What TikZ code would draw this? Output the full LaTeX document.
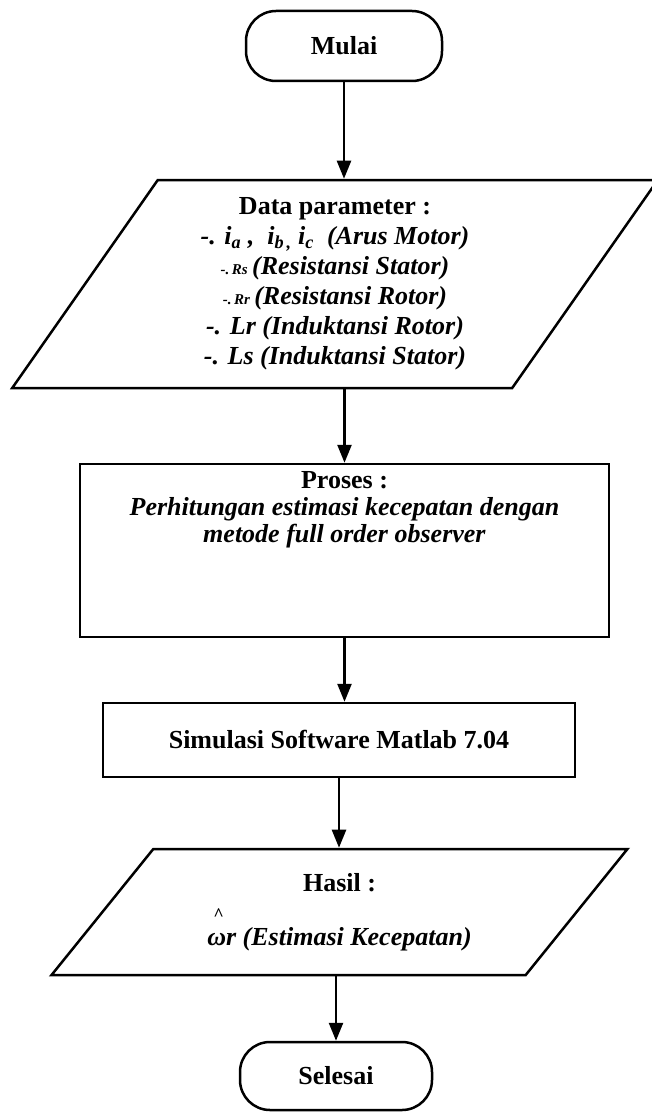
\documentclass[tikz,border=0pt]{standalone}
\usepackage{fontspec}
\setmainfont{Liberation Serif}
\usetikzlibrary{shapes.geometric, arrows.meta, positioning}

\begin{document}
\begin{tikzpicture}[
    x=1pt, y=-1pt,
    font=\fontsize{26}{30}\selectfont,
    terminal/.style={rectangle, draw, rounded corners=30pt, line width=2.5pt, minimum width=196pt, minimum height=70pt, font=\fontsize{26}{30}\selectfont\bfseries},
    io/.style={trapezium, trapezium stretches=true, draw, line width=2.5pt, align=center, inner sep=0pt},
    process/.style={rectangle, draw, line width=2.5pt, align=center, inner sep=0pt},
    arrow/.style={line width=2.5pt, -{Triangle[width=14pt,length=18pt]}}
]
\useasboundingbox (0,0) rectangle (651,1113);

\node (mulai) [terminal] at (344,46) {Mulai};

\node (data) [io, trapezium left angle=57.4, trapezium right angle=122.6, minimum width=650pt, minimum height=208pt] at (335,284)
  {\textbf{Data parameter :}\\
   \textbf{\textit{-. i\textsubscript{a} ,\ \ i\textsubscript{b\,,}\ i\textsubscript{c}\ \ (Arus Motor)}}\\
   \textbf{\textit{{\fontsize{15}{15}\selectfont -.\,Rs}\,(Resistansi Stator)}}\\
   \textbf{\textit{{\fontsize{15}{15}\selectfont -.\,Rr}\,(Resistansi Rotor)}}\\
   \textbf{\textit{-. Lr (Induktansi Rotor)}}\\
   \textbf{\textit{-. Ls (Induktansi Stator)}}};

\node (proses) [process, minimum width=529pt, minimum height=173pt] at (344.5,550.5)
  {\textbf{Proses :}\\[-3pt]
   \textbf{\textit{Perhitungan estimasi kecepatan dengan}}\\[-3pt]
   \textbf{\textit{metode full order observer}}\\[58pt]\mbox{}};

\node (simulasi) [process, minimum width=472pt, minimum height=74pt] at (339,740)
  {\textbf{Simulasi Software Matlab 7.04}};

\node (hasil) [io, trapezium left angle=47.1, trapezium right angle=132.9, minimum width=577pt, minimum height=126pt] at (339.5,912)
  {\textbf{Hasil :}\\[16pt]
   \textbf{\textit{\rlap{\raisebox{25pt}{\hspace{6pt}\fontsize{18}{18}\selectfont\textasciicircum}}ωr (Estimasi Kecepatan)}}};

\node (selesai) [terminal, minimum width=192pt, minimum height=68pt] at (336,1076) {Selesai};

\draw [arrow] (mulai) -- (mulai |- data.north);
\draw [arrow] (proses.north |- data.south) -- (proses.north);
\draw [arrow] (proses.south) -- (proses.south |- simulasi.north);
\draw [arrow] (simulasi.south) -- (simulasi.south |- hasil.north);
\draw [arrow] (selesai.north |- hasil.south) -- (selesai.north);
\end{tikzpicture}
\end{document}
